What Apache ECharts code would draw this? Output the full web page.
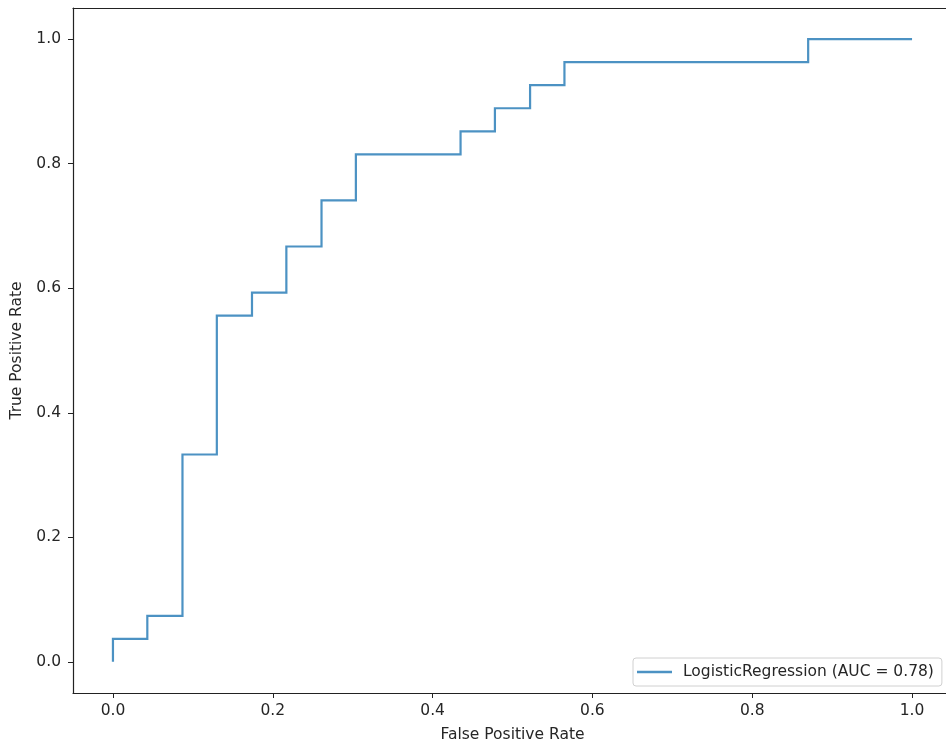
<!DOCTYPE html>
<html>
<head>
<meta charset="utf-8">
<script src="https://cdn.jsdelivr.net/npm/echarts@6/dist/echarts.min.js"></script>
<style>html,body{margin:0;padding:0;background:#fff;}#c{width:946px;height:745px;}</style>
</head>
<body>
<div id="c"></div>
<script>
const fpr = [0, 0, 0.043, 0.043, 0.087, 0.087, 0.130, 0.130, 0.174, 0.174, 0.217, 0.217, 0.261, 0.261, 0.304, 0.304, 0.435, 0.435, 0.478, 0.478, 0.522, 0.522, 0.565, 0.565, 0.870, 0.870, 1.0];
const tpr = [0, 0.037, 0.037, 0.074, 0.074, 0.333, 0.333, 0.556, 0.556, 0.593, 0.593, 0.667, 0.667, 0.741, 0.741, 0.815, 0.815, 0.852, 0.852, 0.889, 0.889, 0.926, 0.926, 0.963, 0.963, 1.0, 1.0];
const tickValues = [0, 0.2, 0.4, 0.6, 0.8, 1.0];
const seriesName = 'LogisticRegression (AUC = 0.78)';
const xTitle = 'False Positive Rate';
const yTitle = 'True Positive Rate';

const font = 'DejaVu Sans';
const fs = 15.5;
const txt = '#262626';
const chart = echarts.init(document.getElementById('c'), null, {renderer: 'canvas'});
const pts = fpr.map((x, i) => [x, tpr[i]]);
const axisCommon = {
  type: 'value', min: -0.05, max: 1.05,
  splitLine: {show: false},
  axisLine: {show: true, onZero: false, lineStyle: {color: '#222', width: 1.2}},
  axisTick: {show: true, length: 5, lineStyle: {color: '#222', width: 1}, customValues: tickValues},
  axisLabel: {show: true, color: txt, fontFamily: font, fontSize: fs, customValues: tickValues,
              formatter: v => v.toFixed(1)}
};
chart.setOption({
  animation: false,
  backgroundColor: '#fff',
  grid: {left: 73, top: 8, width: 879, height: 685, containLabel: false, outerBoundsMode: 'none'},
  xAxis: [
    Object.assign({}, axisCommon, {
      position: 'bottom', name: xTitle, nameLocation: 'middle', nameGap: 34,
      nameTextStyle: {color: txt, fontFamily: font, fontSize: fs},
      axisLabel: Object.assign({}, axisCommon.axisLabel, {margin: 10})
    }),
    {type: 'value', min: -0.05, max: 1.05, position: 'top',
     axisLine: {show: true, onZero: false, lineStyle: {color: '#222', width: 1.2}},
     axisTick: {show: false}, axisLabel: {show: false}, splitLine: {show: false}}
  ],
  yAxis: [
    Object.assign({}, axisCommon, {
      position: 'left', name: yTitle, nameLocation: 'middle', nameGap: 41, nameRotate: 90,
      nameTextStyle: {color: txt, fontFamily: font, fontSize: fs},
      axisLabel: Object.assign({}, axisCommon.axisLabel, {margin: 12})
    })
  ],
  legend: {
    show: true, left: 633, top: 658, orient: 'horizontal',
    data: [{name: seriesName, icon: 'path://M0,0 L35,0 L35,2.4 L0,2.4 Z'}],
    itemWidth: 35, itemHeight: 2.4, itemGap: 10,
    padding: [5, 8, 5, 4],
    borderColor: '#d0d0d0', borderWidth: 1, borderRadius: 3,
    backgroundColor: 'rgba(255,255,255,0.8)',
    formatter: n => '{s| }{t|' + n + '}',
    textStyle: {color: txt, fontFamily: font, fontSize: fs, lineHeight: 18,
      rich: {
        s: {width: 6, fontSize: fs, lineHeight: 18},
        t: {color: txt, fontFamily: font, fontSize: fs, lineHeight: 18}
      }}
  },
  series: [{
    name: seriesName, type: 'line', data: pts, showSymbol: false, symbol: 'none',
    lineStyle: {color: '#1f77b4', width: 2.2, opacity: 0.8, join: 'miter'},
    itemStyle: {color: '#1f77b4', opacity: 0.8},
    clip: false
  }]
});
</script>
</body>
</html>
